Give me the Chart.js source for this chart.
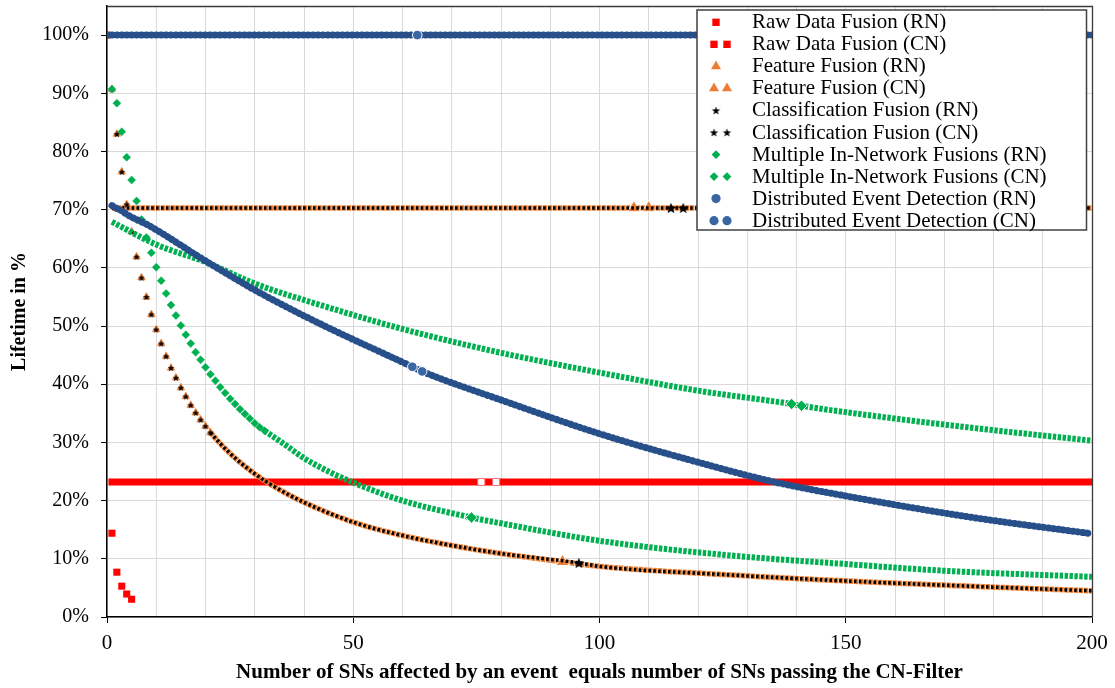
<!DOCTYPE html>
<html>
<head>
<meta charset="utf-8">
<title>Lifetime vs. number of SNs</title>
<script src="https://cdn.jsdelivr.net/npm/chart.js@4.4.1/dist/chart.umd.min.js"></script>
<style>
  html, body { margin: 0; padding: 0; background: #fff; }
  #wrap { width: 1115px; height: 688px; }
</style>
</head>
<body>
<div id="wrap"><canvas id="chart" width="1115" height="688"></canvas></div>
<script>
// Values: x = number of SNs, y = lifetime in %
const xLabelValues = [0, 50, 100, 150, 200];
const yLabelValues = [0, 10, 20, 30, 40, 50, 60, 70, 80, 90, 100];

const seriesNames = [
  'Raw Data Fusion (RN)', 'Raw Data Fusion (CN)',
  'Feature Fusion (RN)', 'Feature Fusion (CN)',
  'Classification Fusion (RN)', 'Classification Fusion (CN)',
  'Multiple In-Network Fusions (RN)', 'Multiple In-Network Fusions (CN)',
  'Distributed Event Detection (RN)', 'Distributed Event Detection (CN)'
];

const rawRnX = [0, 1, 2, 3, 4, 5];
const rawRnY = [100, 14.4, 7.7, 5.3, 3.95, 3.05];
const rawCnX = [1, 76, 79, 200];
const rawCnY = [23.2, 23.2, 23.2, 23.2];

const featRnX = [1, 2, 3, 4, 5, 6, 7, 8, 9, 10, 11, 12, 13, 14, 15, 16, 17, 18, 19, 20, 21,
                 25, 30, 35, 40, 50, 60, 70, 80, 92.5, 100, 125, 150, 175, 200];
const featRnY = [90.7, 83.0, 76.5, 70.9, 66.2, 61.9, 58.3, 55.0, 52.0, 49.4, 47.0, 44.8, 42.8, 41.1, 39.4, 37.9, 36.4, 35.1, 33.9, 32.8, 31.7,
                 28.1, 24.6, 21.9, 19.7, 16.3, 14.0, 12.3, 10.9, 9.5, 8.7, 7.3, 6.2, 5.3, 4.5];
const featCnX = [1, 107, 110, 200];
const featCnY = [70.3, 70.3, 70.3, 70.3];

const classRnX = [1, 2, 3, 4, 5, 6, 7, 8, 9, 10, 11, 12, 13, 14, 15, 16, 17, 18, 19, 20, 21,
                  25, 30, 35, 40, 50, 60, 70, 80, 95.8, 100, 125, 150, 175, 200];
const classRnY = [90.7, 83.0, 76.5, 70.9, 66.2, 61.9, 58.3, 55.0, 52.0, 49.4, 47.0, 44.8, 42.8, 41.1, 39.4, 37.9, 36.4, 35.1, 33.9, 32.8, 31.7,
                  28.1, 24.6, 21.9, 19.7, 16.3, 14.0, 12.3, 10.9, 9.3, 8.7, 7.3, 6.2, 5.3, 4.5];
const classCnX = [1, 114.5, 117, 200];
const classCnY = [70.3, 70.3, 70.3, 70.3];

const multiRnX = [1, 2, 3, 4, 5, 6, 7, 8, 9, 10, 11, 12, 13, 14, 15, 16, 17, 18, 19, 20, 21, 22, 23, 24, 25, 26, 27, 28, 29, 30, 31, 32,
                  36, 40, 45, 50, 60, 74, 80, 100, 125, 150, 171, 200];
const multiRnY = [90.7, 88.3, 83.4, 79.0, 75.1, 71.5, 68.3, 65.2, 62.6, 60.1, 57.8, 55.6, 53.6, 51.8, 50.1, 48.5, 47.0, 45.5, 44.2, 42.9,
                  41.7, 40.6, 39.5, 38.5, 37.5, 36.6, 35.7, 34.9, 34.1, 33.3, 32.6, 32.0,
                  29.7, 27.3, 25.0, 23.1, 20.0, 17.1, 16.1, 13.1, 10.7, 9.1, 7.9, 6.9];
const multiCnX = [1, 10, 20, 30, 43, 60, 80, 100, 120, 139, 141, 160, 180, 200];
const multiCnY = [67.9, 64.0, 61.0, 57.3, 53.7, 49.5, 45.4, 42.0, 38.9, 36.6, 36.3, 34.1, 32.1, 30.3];

const dedRnX = [0, 63, 200];
const dedRnY = [100, 100, 100];
const dedCnX = [1, 2, 3, 4, 5, 6, 7, 8, 20, 30, 43, 62, 64, 80, 100, 120, 135, 150, 175, 200];
const dedCnY = [70.7, 70.2, 69.8, 69.2, 68.7, 68.3, 67.9, 67.5, 61.2, 56.2, 50.5, 43.0, 42.2, 37.3, 31.5, 26.6, 23.3, 20.8, 17.2, 14.3];

// points drawn with an enlarged marker (series identifiers inside the plot)
const rawCnMarks = [76, 79];
const featRnMarks = [92.5];
const featCnMarks = [107, 110];
const classRnMarks = [95.8];
const classCnMarks = [114.5, 117];
const multiRnMarks = [74];
const multiCnMarks = [139, 141];
const dedRnMarks = [63];
const dedCnMarks = [62, 64];

const FONT = "'Liberation Serif', 'Times New Roman', serif";
Chart.defaults.font.family = FONT;
Chart.defaults.color = '#000';

// filled five-pointed star, used as an image point style
function starImage(r, color) {
  const size = Math.ceil(r * 2 + 2);
  const cv = document.createElement('canvas');
  cv.width = size; cv.height = size;
  const g = cv.getContext('2d');
  g.translate(size / 2, size / 2 + r * 0.1);
  g.beginPath();
  for (let k = 0; k < 10; k++) {
    const rr = k % 2 === 0 ? r : r * 0.42;
    const a = -Math.PI / 2 + k * Math.PI / 5;
    g.lineTo(Math.cos(a) * rr, Math.sin(a) * rr);
  }
  g.closePath();
  g.fillStyle = color;
  g.fill();
  return cv;
}

// Marker looks. Dense stretches are drawn as a dashed line through the read values,
// steep stretches (x <= sparseTo) show the individual markers.
const red = { line: '#ff0000', fill: '#ff0000', edge: '#ff0000', edgeW: 0, shape: 'rect', r: 5,
  w: 7, dash: [], cap: 'square', markR: 5, markFill: '#ffffff', markEdge: '#ff7070', markEdgeW: 1, legR: 5.2 };
const orange = { line: '#ed7d31', fill: '#ed7d31', edge: '#ed7d31', edgeW: 0.5, shape: 'triangle', r: 4.5,
  w: 5.5, dash: [4.2, 0.7], cap: 'butt', markR: 7.5, markEdge: '#ffffff', markEdgeW: 1, legR: 5.8 };
const black = { line: '#000000', fill: '#000000', edge: '#000000', edgeW: 0, shape: starImage(3.6, '#000'),
  markShape: starImage(5.8, '#000'), r: 3.6, legShape: starImage(4.4, '#000'),
  w: 3.5, dash: [2.6, 2.3], cap: 'butt', markR: 5.8, markEdge: '#000000', markEdgeW: 0, legR: 4.4 };
const green = { line: '#00b050', fill: '#00b050', edge: '#00b050', edgeW: 0.5, shape: 'rectRot', r: 4,
  w: 6, dash: [3.4, 1.5], cap: 'butt', markR: 5.8, markEdge: '#ffffff', markEdgeW: 1, legR: 4.4 };
const blue = { line: '#27508b', fill: '#3a66a3', edge: '#27508b', edgeW: 1, shape: 'circle', r: 3.3,
  w: 7, dash: [0.5, 4.4], cap: 'round', markR: 4.8, markEdge: '#ffffff', markEdgeW: 1, legR: 4.6 };

function makeSeries(idx, xs, ys, marks, st, sparseTo, double) {
  const isMark = c => !!c.raw && marks.indexOf(c.raw.x) >= 0;
  const isSparse = c => !!c.raw && c.raw.x <= sparseTo;
  return {
    label: seriesNames[idx],
    data: xs.map((x, i) => ({ x: x, y: ys[i] })),
    order: 20 - idx,
    showLine: true,
    borderColor: st.line,
    borderWidth: st.w,
    borderDash: st.dash,
    borderCapStyle: st.cap,
    cubicInterpolationMode: 'monotone',
    segment: {
      borderColor: c => (c.p1.parsed.x <= sparseTo ? 'rgba(0,0,0,0)' : undefined)
    },
    pointStyle: c => (isMark(c) && st.markShape ? st.markShape : st.shape),
    pointRadius: c => (isMark(c) ? st.markR : (isSparse(c) ? st.r : 0)),
    pointBackgroundColor: c => (isMark(c) && st.markFill ? st.markFill : st.fill),
    pointBorderColor: c => (isMark(c) ? st.markEdge : st.edge),
    pointBorderWidth: c => (isMark(c) ? st.markEdgeW : st.edgeW),
    pointHoverRadius: 0,
    legendLook: st,
    legendDouble: double
  };
}

const datasets = [
  makeSeries(0, rawRnX, rawRnY, [], Object.assign({}, red, { w: 0 }), 5, false),
  makeSeries(1, rawCnX, rawCnY, rawCnMarks, red, -1, true),
  makeSeries(2, featRnX, featRnY, featRnMarks, orange, 21, false),
  makeSeries(3, featCnX, featCnY, featCnMarks, orange, -1, true),
  makeSeries(4, classRnX, classRnY, classRnMarks, black, 21, false),
  makeSeries(5, classCnX, classCnY, classCnMarks, black, -1, true),
  makeSeries(6, multiRnX, multiRnY, multiRnMarks, green, 32, false),
  makeSeries(7, multiCnX, multiCnY, multiCnMarks, green, -1, true),
  makeSeries(8, dedRnX, dedRnY, dedRnMarks, blue, -1, false),
  makeSeries(9, dedCnX, dedCnY, dedCnMarks, blue, -1, true)
];

// top and right edge of the plot area
const frame = {
  id: 'frame',
  beforeDatasetsDraw(chart) {
    const { ctx, chartArea: a } = chart;
    ctx.save();
    ctx.strokeStyle = '#3a3a3a';
    ctx.lineWidth = 1.3;
    ctx.beginPath();
    ctx.moveTo(a.left, a.top + 0.5);
    ctx.lineTo(a.right + 0.5, a.top + 0.5);
    ctx.lineTo(a.right + 0.5, a.bottom);
    ctx.stroke();
    ctx.restore();
  }
};

// boxed legend in the upper right corner, RN = one marker, CN = two markers
const boxLegend = {
  id: 'boxLegend',
  afterDraw(chart) {
    const { ctx, chartArea: a } = chart;
    const left = a.left + 590, top = a.top + 4, right = a.right - 5.5, bottom = a.top + 224;
    ctx.save();
    ctx.fillStyle = '#fff';
    ctx.fillRect(left, top, right - left, bottom - top);
    ctx.strokeStyle = '#404040';
    ctx.lineWidth = 1.5;
    ctx.strokeRect(left, top, right - left, bottom - top);
    ctx.font = '21px ' + FONT;
    ctx.textBaseline = 'alphabetic';
    ctx.textAlign = 'left';
    chart.data.datasets.forEach((ds, i) => {
      const st = ds.legendLook;
      const base = top + 18.3 + i * 22.04;
      const my = base - 6;
      const xs = ds.legendDouble ? [left + 17, left + 30] : [left + 19];
      ctx.fillStyle = st.fill;
      ctx.strokeStyle = st.fill;
      xs.forEach(x => {
        Chart.helpers.drawPoint(ctx, {
          pointStyle: st.legShape || st.shape, radius: st.legR, rotation: 0, borderWidth: 0
        }, x, my);
      });
      ctx.fillStyle = '#000';
      ctx.fillText(ds.label, left + 55, base);
    });
    ctx.restore();
  }
};

new Chart(document.getElementById('chart'), {
  type: 'scatter',
  data: { datasets: datasets },
  plugins: [frame, boxLegend],
  options: {
    responsive: false,
    animation: false,
    events: [],
    layout: { autoPadding: false, padding: { top: 6, right: 23, left: 0, bottom: 0 } },
    plugins: { legend: { display: false }, tooltip: { enabled: false } },
    scales: {
      x: {
        type: 'linear', min: 0, max: 200,
        ticks: {
          stepSize: 10, autoSkip: false, maxRotation: 0, padding: 8,
          font: { size: 21 }, color: '#000',
          callback: v => (xLabelValues.indexOf(v) >= 0 ? String(v) : '')
        },
        grid: {
          color: '#d9d9d9', lineWidth: 1, tickLength: 6,
          tickColor: c => (c.tick && xLabelValues.indexOf(c.tick.value) >= 0 ? '#000' : 'rgba(0,0,0,0)')
        },
        border: { color: '#000', width: 1.5 },
        title: {
          display: true, color: '#000',
          text: 'Number of SNs affected by an event  equals number of SNs passing the CN-Filter',
          font: { size: 21, weight: 'bold' }, padding: { top: 0, bottom: 3 }
        },
        afterFit: s => { s.height = 71; s.paddingLeft = 0; s.paddingRight = 0; }
      },
      y: {
        min: 0, max: 105,
        ticks: {
          stepSize: 10, autoSkip: false, padding: 12,
          font: { size: 20 }, color: '#000',
          callback: v => (yLabelValues.indexOf(v) >= 0 ? v + '%' : '')
        },
        grid: {
          color: '#d9d9d9', lineWidth: 1, tickLength: 6,
          tickColor: c => (c.tick && yLabelValues.indexOf(c.tick.value) >= 0 ? '#000' : 'rgba(0,0,0,0)')
        },
        border: { color: '#000', width: 1.5 },
        title: {
          display: true, color: '#000', text: 'Lifetime in %',
          font: { size: 20, weight: 'bold' }, padding: { top: 8, bottom: 0 }
        },
        afterFit: s => { s.width = 107; s.paddingTop = 0; s.paddingBottom = 0; }
      }
    }
  }
});
</script>
</body>
</html>
